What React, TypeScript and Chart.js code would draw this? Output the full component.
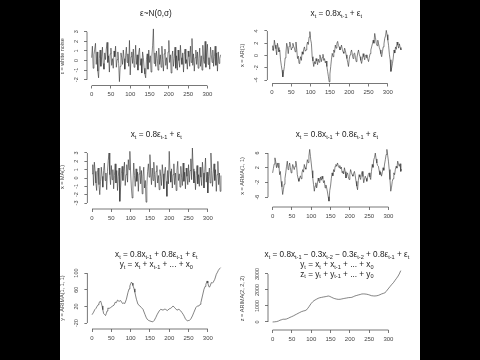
import React, { useEffect, useRef } from "react";
import { Chart, registerables } from "chart.js";
Chart.register(...registerables);

const FONT = '"Liberation Sans", Arial, Helvetica, sans-serif';

// ---------- data ----------
const xTicks = [0, 50, 100, 150, 200, 250, 300];
// time index for the dense series (every 2nd step, 0..334)
const tDense = Array.from({ length: 168 }, (_, i) => i * 2);

const whiteNoise = [
  0.3, 1.5, -0.8, 0.6, 1.2, 1.8, -0.4, 0.9, -1.1, -1.8,
  0.2, 1.1, -0.6, 0.4, 1.4, -0.3, -0.9, 0.8, 0.1, 1.2,
  1.9, -0.2, 0.5, -1.2, 0.7, 1.3, -0.5, 0.2, -0.8, 1.0,
  0.4, 1.5, -0.7, 0.1, 0.9, -0.3, -2.2, -0.6, 0.8, 0.3,
  -0.4, 1.1, 0.2, -0.9, 0.5, 1.4, -0.2, 0.7, -0.6, 2.1,
  -1.5, 0.4, 0.9, -0.3, 1.2, -0.7, 0.0, 1.6, -0.4, 0.6,
  -1.0, 0.8, 1.3, -0.5, 0.2, -1.3, 0.9, 0.3, -0.8, -1.4,
  -1.8, 0.1, 0.7, -0.9, 1.1, -0.2, 0.5, -1.2, 0.4, 1.6,
  3.3, -0.3, 0.8, -0.6, 1.0, 0.2, -1.0, 1.3, -0.4, 0.6,
  -0.7, 1.5, 0.1, -1.1, 0.7, 1.2, -0.5, 0.3, -0.9, 0.9,
  2.1, -0.2, 0.6, -1.3, 0.4, 1.0, -0.6, 0.2, 1.4, -0.8,
  0.5, -1.0, 1.1, 0.0, -0.7, 1.6, 0.3, -0.4, 0.8, -1.2,
  0.6, 1.2, -0.3, 0.1, -0.9, 1.0, 0.4, -0.6, 1.5, -0.2,
  2.3, -0.5, 0.7, -1.1, 0.3, 1.1, -0.4, 0.9, -0.8, 0.2,
  1.3, -0.6, 0.5, -1.0, 1.6, 0.1, -0.3, 2.0, -0.7, 0.8,
  1.7, -0.4, 0.3, -0.9, 1.4, 0.6, -0.2, 1.1, -0.6, 0.4,
  1.5, -0.5, 0.8, -1.1, 0.9, -0.3, 0.2, 0.6,
];

const ar1 = [
  0.9, 1.6, 0.8, 2.5, 1.7, 1.1, 0.1, 2.0, 1.3, 0.6,
  0.9, -0.7, -1.6, -2.4, -3.5, -2.6, -1.8, -0.4, 0.4, 2.0,
  1.4, 0.3, 1.5, 2.2, 1.6, 0.9, 1.3, 2.0, 1.5, 1.2,
  0.6, 2.2, 1.0, -0.5, -0.1, -1.3, -0.9, -0.2, -0.8, 0.6,
  0.2, 1.0, 1.4, 0.7, 0.9, 1.6, 2.2, 1.8, 3.0, 3.9,
  2.6, 2.0, -0.2, -0.9, -1.8, -1.0, -1.4, -0.5, -0.9, -1.5,
  -0.6, -1.1, 0.1, -0.4, -1.0, -0.3, 0.2, -0.8, -0.5, -1.2,
  -0.9, -1.8, -2.6, -3.4, -4.3, -3.0, -1.8, -0.6, 0.35, -0.2,
  0.9, 0.5, 1.7, 1.2, 2.0, 2.3, 1.6, 1.4, 0.9, 1.2,
  1.7, 1.0, 0.6, 0.35, 1.2, 0.8, 0.1, -0.5, -1.1, -1.8,
  -0.6, 0.1, 0.5, 0.9, 0.2, -0.5, 0.3, 0.4, -0.3, -1.0,
  -0.4, 0.4, 0.9, 0.2, -0.2, -0.8, -1.3, -0.6, 0.3, -0.2,
  -0.7, 0.0, 0.1, -0.4, -0.6, -1.0, -0.3, 0.3, 0.9, 1.4,
  1.9, 2.5, 2.0, 3.6, 2.9, 2.0, 1.6, 2.5, 1.9, 1.3,
  0.9, 0.3, -0.2, 0.6, 1.4, 1.9, 2.8, 3.2, 4.1, 3.4,
  2.5, 1.6, 0.2, -0.7, -2.6, -2.0, -1.3, -0.4, 0.9, 0.4,
  1.4, 1.0, 2.2, 1.7, 1.2, 1.9, 1.3, 0.9,
];

const ma1 = [
  0.5, 1.6, -0.9, 1.9, 0.8, -0.6, -1.5, 0.7, 1.2, -0.8,
  -2.0, -0.4, 1.3, 0.2, -1.1, 0.9, 1.8, -0.3, 0.6, -1.4,
  0.8, 2.1, 3.0, 0.4, -0.8, 1.5, -0.2, 1.0, -1.3, 0.3,
  1.7, -0.6, 0.9, -1.5, 0.2, 1.2, -2.8, -1.1, 0.5, 1.4,
  -0.3, 0.8, 1.9, -0.9, 0.4, 1.6, -0.5, 2.2, 1.0, 3.2,
  0.6, -1.2, -2.4, -0.6, 1.8, 0.3, -1.0, 1.1, -0.4, 0.7,
  -1.6, 0.5, 1.4, -0.7, 0.9, -1.9, 0.2, 1.3, -1.2, -0.3,
  -2.9, -1.0, 0.8, 1.7, 0.1, 2.8, 0.6, -0.8, 1.2, -0.3,
  1.9, 0.4, -1.1, 0.8, 1.5, -0.6, 0.3, -1.4, 1.0, 0.2,
  -0.9, 1.6, 0.5, -1.3, 0.7, 1.3, -0.4, -2.2, 0.9, -0.7,
  3.2, 0.8, -0.5, 1.1, -1.2, 0.4, 1.7, -0.8, 0.6, -1.5,
  0.9, 2.0, -0.3, 0.5, -1.1, 1.4, 0.1, -0.9, 1.8, -0.4,
  0.7, -1.3, 1.2, 0.2, -0.8, 1.6, -0.5, 0.9, 2.3, -0.2,
  3.6, 1.1, -0.6, 0.8, -1.4, 0.3, 1.5, -0.7, 0.4, -1.0,
  1.3, 0.1, -0.9, 1.9, 0.6, -1.2, 0.8, 2.4, -0.5, 0.7,
  -1.8, 0.2, 1.2, -0.6, 3.0, 0.9, -1.0, 0.5, 1.7, -0.3,
  1.0, -1.6, 0.4, 2.0, -0.8, 0.6, -1.6, 0.3,
];

const arma11 = [
  0.6, 1.8, 3.0, 4.7, 3.6, 2.0, 3.3, 2.1, 3.3, 0.1,
  1.0, -1.7, -3.2, -5.3, -3.9, -2.5, -0.9, 0.6, 2.4, 3.8,
  1.5, 2.2, 3.3, 2.0, 0.6, 1.4, 2.9, 2.2, 1.5, 2.4,
  3.8, 2.6, 0.1, -0.9, -1.7, -0.8, -0.2, -1.0, 0.6, 1.5,
  0.8, 2.9, 2.0, 1.6, 2.7, 4.2, 3.4, 5.2, 7.0, 5.1,
  3.3, 1.2, -0.8, -2.6, -4.4, -3.0, -2.1, -3.5, -2.4, -0.8,
  -1.6, -2.1, -0.5, -1.4, -0.3, -1.0, -2.1, -1.5, -3.5, -2.7,
  -3.5, -4.6, -5.9, -7.1, -4.2, -3.0, -1.0, 0.6, -0.2, 1.5,
  0.9, 2.4, 2.9, 2.4, 3.3, 2.6, 2.0, 2.6, 1.7, 2.2,
  0.6, 1.1, 0.3, 2.0, 0.9, -0.8, 0.1, 0.6, -0.4, -1.2,
  0.2, 1.5, 0.7, 0.1, -0.3, 0.5, 1.0, -0.2, -1.7, -3.0,
  -4.0, -1.5, 0.1, -0.5, -1.2, 0.2, 1.0, -0.4, -2.1, -1.0,
  -0.3, -0.9, -1.7, -0.6, 0.2, 0.6, -0.5, -1.2, 1.0, 2.9,
  2.1, 4.2, 4.8, 6.0, 4.4, 3.3, 2.6, 2.4, 1.2, 0.1,
  0.8, -0.3, 0.6, 2.0, 1.3, 3.0, 4.2, 5.6, 7.0, 5.4,
  3.8, 1.5, -1.2, -4.4, -3.3, -1.7, -1.0, 0.6, 0.1, 1.6,
  2.4, 1.9, 3.8, 3.0, 2.4, 3.1, 1.0, 1.6,
];

const arimaT = [
  0, 4, 7, 10, 13, 16, 18, 20, 22, 24,
  26, 28, 30, 33, 35, 37, 39, 41, 44, 48,
  52, 57, 60, 63, 66, 70, 74, 79, 82, 85,
  89, 93, 96, 98, 100, 102, 104, 106, 109, 111,
  113, 115, 119, 124, 128, 132, 137, 140, 143, 147,
  150, 153, 156, 159, 161, 165, 169, 174, 178, 181,
  184, 187, 190, 195, 200, 203, 206, 210, 214, 217,
  220, 225, 230, 233, 236, 239, 242, 245, 247, 250,
  252, 256, 260, 264, 269, 273, 277, 280, 282, 286,
  290, 293, 295, 298, 300, 302, 304, 306, 309, 312,
  314, 318, 322, 325, 327, 330, 333,
];
const arima111 = [
  0, 6, 12, 15, 20, 24, 28, 31, 33, 28,
  21, 12, 3, 0, -2, 3, 9, 16, 15, 17,
  20, 23, 30, 29, 35, 32, 34, 27, 28, 27,
  37, 53, 62, 69, 74, 78, 76, 70, 62, 54,
  45, 37, 25, 21, 17, 13, 1, -6, -11, -14,
  -15, -16, -17, -16, -14, -7, 1, 9, 13, 12,
  11, 13, 13, 10, 14, 15, 17, 21, 17, 14,
  11, 13, 9, 5, 1, -4, -10, -13, -15, -14,
  -14, -10, -3, 6, 17, 21, 21, 25, 29, 45,
  61, 68, 73, 81, 76, 69, 66, 69, 77, 76,
  78, 85, 97, 102, 106, 110, 113,
];

const arima2T = [
  0, 5, 10, 15, 19, 23, 26, 29, 32, 36,
  41, 45, 49, 54, 58, 62, 66, 70, 75, 80,
  84, 88, 91, 94, 97, 100, 104, 107, 110, 114,
  118, 122, 127, 132, 136, 140, 144, 148, 153, 157,
  161, 166, 170, 175, 179, 183, 187, 192, 196, 201,
  205, 209, 213, 218, 222, 227, 231, 235, 239, 244,
  248, 252, 256, 261, 265, 270, 274, 278, 282, 287,
  291, 294, 297, 301, 304, 308, 313, 317, 321, 325,
  328, 332,
];
const arima222 = [
  0, 10, 25, 60, 110, 140, 165, 175, 170, 190,
  240, 290, 330, 385, 440, 490, 540, 590, 650, 690,
  710, 760, 855, 950, 1060, 1160, 1270, 1330, 1375, 1430,
  1480, 1515, 1540, 1565, 1580, 1600, 1625, 1600, 1540, 1495,
  1460, 1430, 1415, 1420, 1440, 1460, 1480, 1500, 1520, 1530,
  1540, 1580, 1625, 1660, 1690, 1720, 1750, 1755, 1750, 1735,
  1710, 1680, 1645, 1630, 1625, 1640, 1665, 1705, 1750, 1790,
  1830, 1900, 2000, 2120, 2210, 2330, 2460, 2600, 2730, 2870,
  3000, 3210,
];

const yTicks1 = [-2, -1, 0, 1, 2, 3];
const yTicks2 = [-4, -2, 0, 2, 4];
const yTicks3 = [-3, -2, -1, 0, 1, 2, 3];
const yTicks4 = [-6, -2, 2, 6];
const yTicks5 = [-20, 20, 60, 100];
const yTicks6 = [0, 1000, 2000, 3000];

// ---------- panel layout ----------
type Panel = {
  px: number; py: number;
  title: string[]; titleY: number[];
  yTitle: string;
  xs: number[]; ys: number[];
  yTicks: number[];
  yMin: number; yMax: number;
  l: number; t: number; b: number;
};

const PANELS: Panel[] = [
  { px: 60, py: 0, title: ["ε~N(0,σ)"], titleY: [14], yTitle: "ε = white noise",
    xs: tDense, ys: whiteNoise, yTicks: yTicks1, yMin: -2.6, yMax: 3.5, l: 27, t: 27, b: 85.5 },
  { px: 240, py: 0, title: ["x_{t} = 0.8x_{t-1} + ε_{t}"], titleY: [14], yTitle: "x = AR(1)",
    xs: tDense, ys: ar1, yTicks: yTicks2, yMin: -4.57, yMax: 4.65, l: 27.4, t: 27, b: 83.5 },
  { px: 60, py: 120, title: ["x_{t} = 0.8ε_{t-1} + ε_{t}"], titleY: [15], yTitle: "x = MA(1)",
    xs: tDense, ys: ma1, yTicks: yTicks3, yMin: -3.72, yMax: 3.96, l: 27.4, t: 25, b: 89 },
  { px: 240, py: 120, title: ["x_{t} = 0.8x_{t-1} + 0.8ε_{t-1} + ε_{t}"], titleY: [15], yTitle: "x = ARMA(1, 1)",
    xs: tDense, ys: arma11, yTicks: yTicks4, yMin: -8.7, yMax: 8.2, l: 28, t: 25, b: 87 },
  { px: 60, py: 240, title: ["x_{t} = 0.8x_{t-1} + 0.8ε_{t-1} + ε_{t}", "y_{t} = x_{t} + x_{t-1} + ... + x_{0}"], titleY: [15, 25],
    yTitle: "y = ARIMA(1, 1, 1)", xs: arimaT, ys: arima111, yTicks: yTicks5, yMin: -34.3, yMax: 114.5, l: 27.4, t: 27, b: 89 },
  { px: 240, py: 240, title: ["x_{t} = 0.8x_{t-1} − 0.3x_{t-2} − 0.3ε_{t-2} + 0.8ε_{t-1} + ε_{t}", "y_{t} = x_{t} + x_{t-1} + ... + x_{0}", "z_{t} = y_{t} + y_{t-1} + ... + y_{0}"],
    titleY: [15, 25, 34.3], yTitle: "z = ARIMA(2, 2, 2)", xs: arima2T, ys: arima222, yTicks: yTicks6, yMin: -500, yMax: 3437, l: 28, t: 27, b: 90 },
];

const W = 180, H = 120;
const X_MIN = -12, X_MAX = 345, PX_PER_T = 0.386;

function parseRich(s: string) {
  const segs: { t: string; sub: boolean }[] = [];
  let buf = "";
  let i = 0;
  while (i < s.length) {
    if (s[i] === "_" && s[i + 1] === "{") {
      if (buf) segs.push({ t: buf, sub: false });
      buf = "";
      const j = s.indexOf("}", i);
      segs.push({ t: s.slice(i + 2, j), sub: true });
      i = j + 1;
    } else {
      buf += s[i];
      i++;
    }
  }
  if (buf) segs.push({ t: buf, sub: false });
  return segs;
}

function drawRich(ctx: CanvasRenderingContext2D, s: string, cx: number, cy: number) {
  const segs = parseRich(s);
  const main = `8.2px ${FONT}`;
  const sub = `5.6px ${FONT}`;
  let w = 0;
  segs.forEach((g) => { ctx.font = g.sub ? sub : main; w += ctx.measureText(g.t).width; });
  let x = cx - w / 2;
  ctx.textAlign = "left";
  ctx.textBaseline = "middle";
  segs.forEach((g) => {
    ctx.font = g.sub ? sub : main;
    ctx.fillText(g.t, x, g.sub ? cy + 2.5 : cy);
    x += ctx.measureText(g.t).width;
  });
}

const rPlot = {
  id: "rPlot",
  afterDraw(chart: any, _args: any, opts: any) {
    const { ctx, chartArea } = chart;
    const xs = chart.scales.x;
    const ys = chart.scales.y;
    ctx.save();
    ctx.strokeStyle = "#555";
    ctx.lineWidth = 0.8;
    const xa = xs.getPixelForValue(xTicks[0]);
    const xb = xs.getPixelForValue(xTicks[xTicks.length - 1]);
    ctx.beginPath();
    ctx.moveTo(xa, chartArea.bottom);
    ctx.lineTo(xb, chartArea.bottom);
    ctx.stroke();
    const yt: number[] = opts.yTicks;
    const ya = ys.getPixelForValue(yt[0]);
    const yb = ys.getPixelForValue(yt[yt.length - 1]);
    ctx.beginPath();
    ctx.moveTo(chartArea.left, ya);
    ctx.lineTo(chartArea.left, yb);
    ctx.stroke();
    ctx.fillStyle = "#444";
    ctx.font = `5.5px ${FONT}`;
    ctx.textAlign = "center";
    ctx.textBaseline = "middle";
    yt.forEach((v) => {
      const py = ys.getPixelForValue(v);
      ctx.save();
      ctx.translate(chartArea.left - 10.5, py);
      ctx.rotate(-Math.PI / 2);
      ctx.fillText(String(v), 0, 0);
      ctx.restore();
    });
    ctx.fillStyle = "#222";
    const cx = (chartArea.left + chartArea.right) / 2;
    (opts.title as string[]).forEach((line, i) => drawRich(ctx, line, cx, opts.titleY[i]));
    ctx.restore();
  },
};

function PanelChart({ p }: { p: Panel }) {
  const ref = useRef<HTMLCanvasElement>(null);
  useEffect(() => {
    if (!ref.current) return;
    const r = p.l + (X_MAX - X_MIN) * PX_PER_T;
    const chart = new Chart(ref.current, {
      type: "line",
      data: {
        datasets: [
          {
            data: p.xs.map((x, i) => ({ x, y: p.ys[i] })),
            borderColor: "#303030",
            borderWidth: 0.6,
            pointRadius: 0,
            tension: 0,
            fill: false,
          },
        ],
      },
      options: {
        animation: false,
        responsive: false,
        events: [],
        layout: { padding: { left: 0, top: p.t, right: W - r, bottom: 0 } },
        plugins: {
          legend: { display: false },
          tooltip: { enabled: false },
          title: { display: false },
          rPlot: { yTicks: p.yTicks, title: p.title, titleY: p.titleY },
        } as any,
        scales: {
          x: {
            type: "linear",
            min: X_MIN,
            max: X_MAX,
            afterBuildTicks: (s: any) => { s.ticks = xTicks.map((v) => ({ value: v })); },
            afterFit: (s: any) => { s.height = H - p.b; },
            grid: { display: true, drawOnChartArea: false, drawTicks: true, tickLength: 3, color: "#555", lineWidth: 0.8 },
            border: { display: false },
            ticks: { font: { family: FONT, size: 6 }, color: "#444", padding: 2.5, maxRotation: 0, autoSkip: false },
          },
          y: {
            type: "linear",
            min: p.yMin,
            max: p.yMax,
            afterBuildTicks: (s: any) => { s.ticks = p.yTicks.map((v) => ({ value: v })); },
            afterFit: (s: any) => { s.width = p.l; },
            grid: { display: true, drawOnChartArea: false, drawTicks: true, tickLength: 3, color: "#555", lineWidth: 0.8 },
            border: { display: false },
            ticks: { display: false },
            title: { display: true, text: p.yTitle, font: { family: FONT, size: 5.5 }, color: "#444", padding: { top: -0.5, bottom: 0 } },
          },
        },
      },
      plugins: [rPlot as any],
    });
    return () => chart.destroy();
  }, [p]);
  return (
    <canvas
      ref={ref}
      width={W}
      height={H}
      style={{ position: "absolute", left: p.px, top: p.py, width: W, height: H }}
    />
  );
}

export default function App() {
  useEffect(() => {
    document.body.style.margin = "0";
    document.body.style.background = "#000";
  }, []);
  return (
    <div style={{ position: "relative", width: 480, height: 360, background: "#000", overflow: "hidden" }}>
      <div style={{ position: "absolute", left: 60, top: 0, width: 360, height: 360, background: "#fff" }} />
      {PANELS.map((p, i) => (
        <PanelChart key={i} p={p} />
      ))}
    </div>
  );
}
